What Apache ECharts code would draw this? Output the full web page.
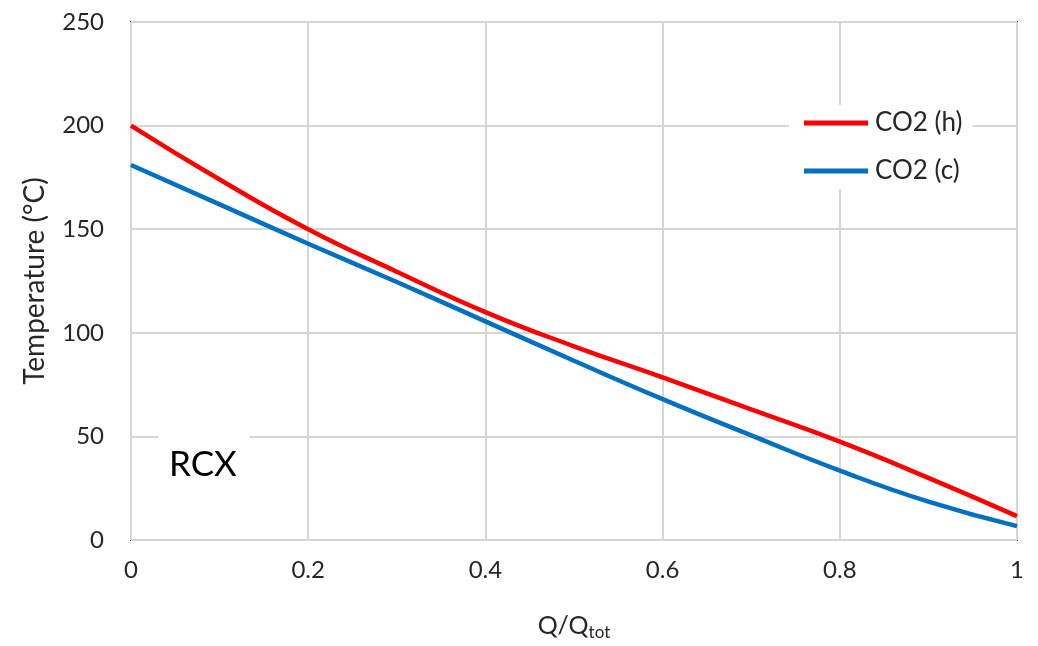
<!DOCTYPE html>
<html>
<head>
<meta charset="utf-8">
<script src="https://cdn.jsdelivr.net/npm/echarts@6/dist/echarts.min.js"></script>
<style>
html,body{margin:0;padding:0;background:#fff;}
#chart{width:1038px;height:646px;}
</style>
</head>
<body>
<div id="chart"></div>
<script>
const xValues = [0, 0.1, 0.2, 0.3, 0.4, 0.5, 0.6, 0.7, 0.8, 0.9, 1.0];
const hotCO2 = [200, 174, 150, 129.5, 110, 93.5, 78.5, 63, 47.5, 30, 11.5];
const coldCO2 = [181, 162, 143, 124.5, 105.5, 86.5, 68, 50.5, 33.5, 18.5, 6.7];
const seriesNames = ['CO2 (h)', 'CO2 (c)'];
const annotation = 'RCX';

const font = 'Lato, "Open Sans", sans-serif';
const txt = '#262626';
const chart = echarts.init(document.getElementById('chart'));
chart.setOption({
  animation: false,
  backgroundColor: '#fff',
  grid: { left: 131, right: 21, top: 22, bottom: 104, show: true, borderColor: '#000', borderWidth: 2, backgroundColor: 'transparent' },
  legend: {
    orient: 'vertical',
    left: 789, top: 105,
    backgroundColor: '#fff',
    padding: [5, 10, 5, 15],
    itemWidth: 64, itemHeight: 5, itemGap: 22,
    icon: 'rect',
    textStyle: { fontFamily: font, fontSize: 26, color: txt, padding: [0, 0, 0, 2] },
    data: seriesNames
  },
  xAxis: {
    type: 'value', min: 0, max: 1, interval: 0.2,
    axisLine: { show: false },
    axisTick: { show: false },
    axisLabel: { fontFamily: font, fontSize: 24, color: txt, margin: 18 },
    splitLine: { show: true, lineStyle: { color: '#d6d6d6', width: 2 } },
    name: '{a|Q/Q}{b|tot}',
    nameLocation: 'middle', nameGap: 70,
    nameTextStyle: {
      rich: {
        a: { fontFamily: font, fontSize: 25, color: txt },
        b: { fontFamily: font, fontSize: 17, color: txt, padding: [14, 0, 0, 0] }
      }
    }
  },
  yAxis: {
    type: 'value', min: 0, max: 250, interval: 50,
    axisLine: { show: false },
    axisTick: { show: false },
    axisLabel: { fontFamily: font, fontSize: 24, color: txt, margin: 27 },
    splitLine: { show: true, lineStyle: { color: '#d6d6d6', width: 2 } },
    name: 'Temperature (°C)',
    nameLocation: 'middle', nameGap: 82,
    nameTextStyle: { fontFamily: font, fontSize: 28, color: txt }
  },
  graphic: [
    { type: 'rect', left: 158, top: 426, shape: { width: 92, height: 66 }, style: { fill: '#fff' }, z: 5 },
    { type: 'text', left: 169, top: 447, style: { text: annotation, fontFamily: font, fontSize: 35, fill: '#000' }, z: 6 }
  ],
  series: [
    { name: seriesNames[0], type: 'line', smooth: true, symbol: 'none', z: 3,
      lineStyle: { color: '#ff0000', width: 4.5 }, itemStyle: { color: '#ff0000' },
      data: xValues.map((x, i) => [x, hotCO2[i]]) },
    { name: seriesNames[1], type: 'line', smooth: true, symbol: 'none', z: 3,
      lineStyle: { color: '#0070c0', width: 4.5 }, itemStyle: { color: '#0070c0' },
      data: xValues.map((x, i) => [x, coldCO2[i]]) }
  ]
});
</script>
</body>
</html>
